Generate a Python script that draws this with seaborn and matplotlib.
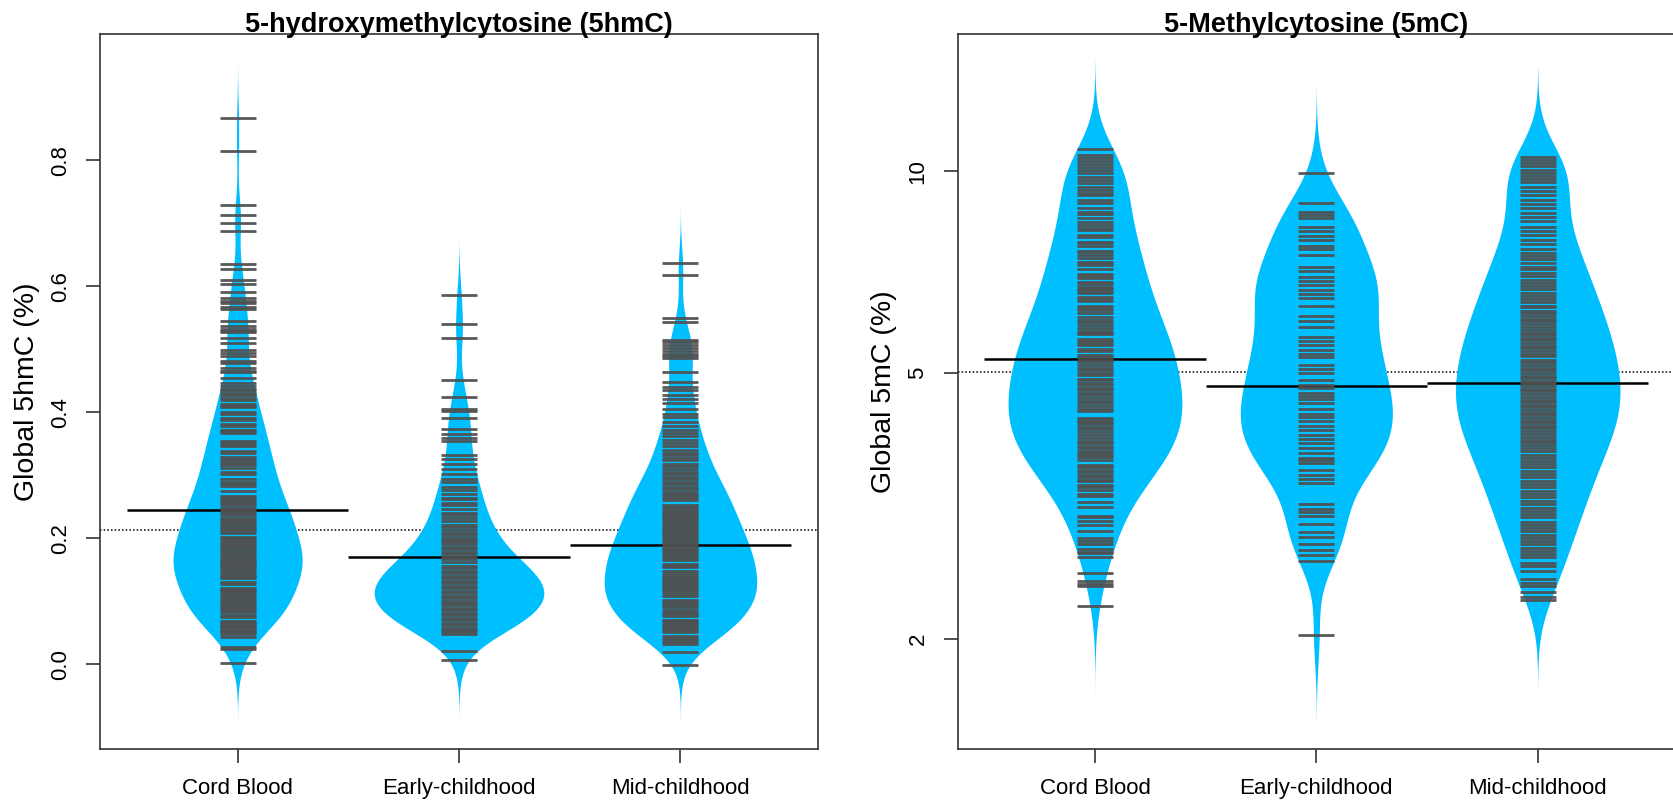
import numpy as np
import pandas as pd
import matplotlib
matplotlib.use("Agg")
import matplotlib.pyplot as plt
from matplotlib.ticker import NullLocator
import seaborn as sns

sns.set_theme(style="white")
plt.rcParams['font.family'] = ['Liberation Sans', 'DejaVu Sans']
plt.rcParams['text.color'] = 'black'
plt.rcParams['axes.labelcolor'] = 'black'
plt.rcParams['xtick.color'] = 'black'
plt.rcParams['ytick.color'] = 'black'

groups = ["Cord Blood", "Early-childhood", "Mid-childhood"]

# ---------------- 5hmC (%) : observed values and multiplicities ----------------
hmc_cord_values = [0.003, 0.025, 0.028,
    0.044, 0.049, 0.051, 0.053, 0.057, 0.059, 0.061, 0.064, 0.067, 0.069, 0.075, 0.078,
    0.083, 0.086, 0.089, 0.092, 0.095, 0.098, 0.101, 0.104, 0.107, 0.110, 0.113, 0.116, 0.119,
    0.121, 0.128, 0.131, 0.137, 0.139, 0.141, 0.144, 0.147, 0.150, 0.153, 0.156, 0.159,
    0.162, 0.165, 0.168, 0.171, 0.174, 0.177, 0.180, 0.183, 0.186, 0.189, 0.192, 0.195, 0.198,
    0.201, 0.203, 0.208, 0.212, 0.215, 0.218, 0.221, 0.224, 0.227, 0.230, 0.233, 0.237,
    0.240, 0.243, 0.246, 0.249, 0.253, 0.256, 0.259, 0.262, 0.265, 0.268, 0.276,
    0.284, 0.287, 0.290, 0.294, 0.302, 0.305, 0.3115, 0.317, 0.320,
    0.323, 0.326, 0.329, 0.336, 0.339, 0.346, 0.349, 0.352, 0.355,
    0.367, 0.370, 0.372, 0.378, 0.381, 0.388, 0.391, 0.397, 0.400, 0.408, 0.411, 0.414, 0.420,
    0.423, 0.427, 0.431, 0.435, 0.438, 0.442, 0.446, 0.455, 0.464, 0.466, 0.470, 0.478,
    0.482, 0.490, 0.494, 0.499, 0.510, 0.518, 0.527, 0.530, 0.533, 0.537,
    0.546, 0.565, 0.568, 0.573, 0.577, 0.582, 0.592,
    0.6045, 0.611, 0.628, 0.635, 0.688, 0.700, 0.714, 0.729, 0.815, 0.8675]
hmc_cord_counts = [2, 2, 2,
    1, 2, 1, 2, 2, 1, 2, 3, 2, 2, 3, 2,
    3, 3, 3, 3, 3, 3, 3, 3, 3, 3, 3, 2, 2,
    4, 4, 4, 4, 4, 3, 3, 3, 3, 3, 3, 4,
    4, 4, 4, 4, 3, 3, 3, 3, 3, 3, 3, 3, 3,
    3, 2, 4, 4, 4, 3, 3, 3, 3, 3, 3, 3,
    3, 2, 2, 2, 3, 2, 2, 4, 4, 4, 3,
    4, 4, 3, 3, 3, 3, 1, 4, 3,
    2, 2, 2, 3, 2, 3, 3, 2, 2,
    2, 2, 2, 3, 2, 2, 2, 2, 2, 2, 1, 1, 1,
    1, 1, 1, 2, 1, 2, 2, 1, 1, 1, 1, 1,
    1, 1, 1, 1, 1, 1, 1, 2, 2, 1,
    1, 1, 1, 1, 1, 1, 1,
    1, 1, 1, 1, 1, 1, 1, 1, 1, 1]

hmc_early_values = [0.0075, 0.022,
    0.048, 0.051, 0.055, 0.058, 0.062, 0.066, 0.070, 0.074, 0.078,
    0.082, 0.086, 0.090, 0.094, 0.098, 0.101, 0.105, 0.109, 0.113, 0.117,
    0.121, 0.125, 0.129, 0.133, 0.137, 0.141, 0.145, 0.149, 0.153, 0.157,
    0.162, 0.167, 0.171, 0.175, 0.179, 0.183, 0.187, 0.191, 0.194, 0.198,
    0.201, 0.205, 0.209, 0.214, 0.218, 0.222, 0.228, 0.233, 0.237,
    0.241, 0.246, 0.253, 0.257, 0.262, 0.265, 0.271, 0.277,
    0.282, 0.290, 0.295, 0.302, 0.310, 0.318, 0.326, 0.333,
    0.355, 0.359, 0.366, 0.374, 0.392, 0.403, 0.406, 0.425, 0.452, 0.519, 0.541, 0.586]
hmc_early_counts = [1, 1,
    2, 2, 2, 2, 2, 2, 3, 2, 3,
    3, 3, 3, 2, 3, 3, 3, 3, 3, 3,
    3, 3, 3, 3, 3, 3, 3, 3, 2, 3,
    2, 2, 1, 2, 1, 2, 1, 2, 1, 1,
    2, 1, 1, 1, 1, 1, 2, 1, 1,
    1, 1, 1, 1, 1, 1, 1, 1,
    1, 1, 1, 1, 1, 1, 1, 1,
    1, 1, 1, 1, 1, 1, 1, 1, 1, 1, 1, 1]

hmc_mid_values = [-0.0008, 0.0198,
    0.033, 0.036, 0.039, 0.042, 0.045, 0.051, 0.054, 0.057, 0.060, 0.063, 0.066, 0.069,
    0.070, 0.0765, 0.080, 0.083, 0.086, 0.092, 0.095, 0.098, 0.101, 0.103, 0.109,
    0.112, 0.115, 0.118, 0.121, 0.124, 0.127, 0.130, 0.133, 0.136, 0.139, 0.142, 0.145, 0.148,
    0.154, 0.157, 0.160, 0.166, 0.169, 0.172, 0.175, 0.178, 0.181, 0.184, 0.187,
    0.190, 0.193, 0.196, 0.199, 0.202, 0.205, 0.208, 0.211, 0.214, 0.217, 0.220, 0.223, 0.226, 0.229,
    0.232, 0.235, 0.238, 0.241, 0.244, 0.247, 0.250, 0.253, 0.261, 0.264, 0.267,
    0.271, 0.274, 0.278, 0.282, 0.286, 0.290, 0.294, 0.298, 0.302, 0.306,
    0.311, 0.315, 0.319, 0.324, 0.328, 0.332, 0.336, 0.341, 0.346,
    0.351, 0.356, 0.362, 0.367, 0.372, 0.378, 0.385, 0.393, 0.398, 0.405,
    0.415, 0.422, 0.428, 0.435, 0.441, 0.449, 0.464, 0.487, 0.489, 0.493, 0.498, 0.503, 0.507,
    0.512, 0.515, 0.543, 0.550, 0.618, 0.638]
hmc_mid_counts = [1, 1,
    1, 2, 2, 2, 2, 2, 2, 2, 2, 2, 2, 2,
    3, 3, 3, 3, 3, 3, 3, 3, 3, 2, 3,
    3, 3, 3, 3, 3, 3, 3, 3, 3, 3, 2, 2, 2,
    3, 4, 3, 4, 3, 3, 3, 3, 3, 2, 2,
    2, 2, 2, 2, 2, 2, 3, 2, 2, 2, 2, 2, 2, 2,
    2, 2, 2, 2, 2, 2, 2, 2, 3, 2, 2,
    2, 2, 2, 2, 2, 2, 2, 2, 1, 1,
    2, 2, 1, 1, 1, 2, 1, 2, 1,
    2, 1, 1, 1, 2, 1, 1, 1, 2, 1,
    1, 1, 1, 1, 1, 1, 2, 1, 1, 1, 1, 1, 1,
    1, 1, 1, 1, 1, 1]

hmc_means = [0.2456, 0.1711, 0.1890]
hmc_overall = 0.2137

# ---------------- 5mC (%) : observed values and multiplicities ----------------
mc_cord_values = [2.24, 2.40, 2.42, 2.44, 2.51, 2.65, 2.69, 2.70, 2.73, 2.775, 2.80, 2.83,
    2.90, 2.96, 3.00, 3.04, 3.06, 3.15, 3.21, 3.27, 3.30,
    3.34, 3.37, 3.40, 3.44, 3.46, 3.49, 3.52, 3.55, 3.58, 3.61,
    3.645, 3.705, 3.74, 3.77, 3.79, 3.82, 3.86, 3.89, 3.93, 3.96,
    4.00, 4.04, 4.08, 4.12, 4.15, 4.19, 4.22, 4.25, 4.28,
    4.38, 4.42, 4.46, 4.50, 4.54, 4.59, 4.63, 4.67, 4.71, 4.74,
    4.80, 4.82, 4.88, 4.90, 4.96, 4.99, 5.04, 5.09, 5.13, 5.18, 5.22,
    5.27, 5.31, 5.39, 5.43, 5.50, 5.53, 5.58, 5.62, 5.71, 5.74,
    5.78, 5.84, 5.90, 5.96, 6.00, 6.05, 6.14, 6.21, 6.25, 6.29,
    6.39, 6.44, 6.48, 6.58, 6.62, 6.67, 6.72, 6.78, 6.83, 6.93,
    6.98, 7.03, 7.13, 7.24, 7.28, 7.31, 7.42, 7.50, 7.56,
    7.61, 7.73, 7.80, 7.85, 7.96, 8.04, 8.17, 8.21,
    8.32, 8.39, 8.50, 8.62, 8.68, 8.82, 8.95, 9.06,
    9.22, 9.29, 9.36, 9.48, 9.60, 9.70, 9.81, 9.92,
    10.03, 10.14, 10.25, 10.36, 10.47, 10.56, 10.80]
mc_cord_counts = [1, 1, 1, 1, 1, 1, 1, 1, 1, 1, 2, 1,
    1, 2, 2, 2, 2, 2, 2, 2, 2,
    2, 2, 2, 2, 2, 2, 2, 2, 3, 2,
    3, 3, 3, 3, 2, 3, 3, 3, 3, 3,
    3, 3, 3, 3, 4, 4, 4, 4, 4,
    3, 3, 4, 3, 4, 3, 4, 3, 4, 3,
    3, 2, 3, 3, 3, 2, 3, 3, 3, 4, 3,
    3, 3, 3, 3, 3, 3, 3, 3, 3, 2,
    3, 3, 3, 2, 2, 3, 3, 2, 2, 2,
    2, 2, 2, 3, 2, 2, 2, 2, 2, 2,
    2, 2, 2, 2, 1, 2, 2, 2, 2,
    2, 2, 2, 1, 2, 2, 2, 1,
    2, 2, 2, 1, 2, 2, 1, 1,
    2, 2, 1, 1, 2, 2, 2, 1,
    2, 2, 2, 1, 2, 2, 1]

mc_early_values = [2.03, 2.62, 2.67, 2.72, 2.77, 2.84, 2.89, 2.97, 3.05, 3.10, 3.13, 3.18,
    3.42, 3.47, 3.52, 3.58, 3.66, 3.70, 3.73, 3.80, 3.86, 3.93, 3.98, 4.04,
    4.11, 4.16, 4.23, 4.30, 4.34, 4.42, 4.50, 4.56, 4.61, 4.66, 4.74, 4.80, 4.87,
    5.00, 5.06, 5.13, 5.27, 5.34, 5.41, 5.50, 5.58, 5.65, 5.85, 5.98, 6.07,
    6.29, 6.46, 6.55, 6.64, 6.77, 6.86, 6.95, 7.10, 7.20, 7.50, 7.65, 7.74,
    7.90, 8.00, 8.13, 8.25, 8.50, 8.60, 8.70, 8.96, 9.95]
mc_early_counts = [1, 1, 1, 1, 1, 1, 1, 1, 1, 1, 1, 1,
    2, 1, 1, 2, 1, 2, 1, 2, 2, 2, 1, 2,
    2, 1, 2, 2, 2, 2, 2, 1, 2, 1, 2, 1, 2,
    2, 1, 2, 2, 2, 2, 1, 1, 2, 2, 2, 2,
    2, 2, 2, 2, 2, 1, 2, 2, 2, 1, 2, 1,
    1, 1, 1, 1, 2, 1, 1, 2, 1]

mc_mid_values = [2.29, 2.31, 2.35, 2.40, 2.43, 2.46, 2.53, 2.57, 2.60, 2.65, 2.68, 2.71, 2.74,
    2.77, 2.80, 2.83, 2.86, 2.90, 2.93, 2.96, 2.99, 3.04, 3.08, 3.11, 3.14,
    3.18, 3.22, 3.26, 3.29, 3.33, 3.37, 3.41, 3.45, 3.49, 3.53, 3.57, 3.61,
    3.65, 3.69, 3.73, 3.77, 3.82, 3.86, 3.90, 3.94, 3.97, 4.01, 4.05, 4.09, 4.13, 4.16,
    4.20, 4.24, 4.28, 4.32, 4.35, 4.40, 4.44, 4.48, 4.52, 4.55, 4.60, 4.65, 4.69, 4.73, 4.77,
    4.82, 4.86, 4.91, 4.95, 4.99, 5.04, 5.09, 5.14, 5.19, 5.23, 5.29, 5.34, 5.39, 5.44, 5.48,
    5.53, 5.59, 5.64, 5.69, 5.73, 5.79, 5.85, 5.91, 5.97, 6.01, 6.07, 6.13, 6.19, 6.26, 6.29,
    6.37, 6.44, 6.51, 6.57, 6.66, 6.73, 6.81, 6.88, 6.97, 7.05, 7.13, 7.20,
    7.30, 7.39, 7.48, 7.55, 7.66, 7.77, 7.88, 8.02, 8.13, 8.24, 8.42, 8.55, 8.65,
    8.80, 8.93, 9.05, 9.22, 9.35, 9.47, 9.62, 9.72, 9.84, 9.95,
    10.05, 10.17, 10.28, 10.40, 10.50]
mc_mid_counts = [1, 1, 1, 1, 1, 1, 1, 2, 1, 1, 1, 1, 1,
    1, 1, 2, 1, 1, 1, 2, 1, 2, 1, 2, 1,
    2, 2, 1, 2, 2, 2, 2, 1, 2, 2, 2, 2,
    2, 2, 3, 2, 2, 2, 2, 2, 2, 2, 2, 2, 2, 3,
    2, 2, 3, 2, 2, 2, 3, 2, 2, 2, 2, 3, 2, 2, 3,
    2, 3, 2, 2, 2, 2, 2, 3, 2, 2, 2, 2, 2, 3, 2,
    2, 2, 2, 2, 2, 2, 2, 2, 2, 1, 2, 2, 2, 2, 1,
    2, 2, 2, 2, 2, 2, 2, 1, 2, 2, 2, 1,
    2, 2, 1, 1, 2, 2, 1, 2, 1, 2, 2, 1, 1,
    1, 1, 1, 1, 1, 1, 1, 2, 2, 1,
    2, 2, 2, 2, 1]

mc_means = [5.24, 4.78, 4.83]
mc_overall = 5.02

BLUE = "#00BFFF"
LINE = "#505050"
SPINE = "#333333"


def draw_panel(ax, values, counts, means, overall, bw, widths, log):
    for i, (v, c) in enumerate(zip(values, counts)):
        obs = np.repeat(np.asarray(v, float), c)
        sd = np.std(np.log10(obs) if log else obs, ddof=1)
        df = pd.DataFrame({"group": [groups[i]] * len(obs), "value": obs})
        kw = dict(log_scale=True) if log else {}
        sns.violinplot(data=df, x="group", y="value", order=groups, color=BLUE,
                       saturation=1, inner=None, linewidth=0, cut=3,
                       bw_method=bw / sd, gridsize=400, width=widths[i],
                       density_norm="width", ax=ax, **kw)
    for coll in ax.collections:
        coll.set_zorder(2)
    for i, v in enumerate(values):
        ax.hlines(means[i], i - 0.5, i + 0.5, colors="black", linewidth=1.8, zorder=3)
        ax.hlines(np.asarray(v, float), i - 0.081, i + 0.081,
                  colors=LINE, alpha=0.95, linewidth=2.0, zorder=4)
    ax.axhline(overall, color="black", lw=1.1, ls=(0, (1, 1.4)), zorder=1)
    ax.set_xlim(-0.62, 2.62)
    ax.set_xticks(range(3))
    ax.set_xticklabels(groups)
    ax.set_xlabel("")
    for sp in ax.spines.values():
        sp.set_visible(True)
        sp.set_color(SPINE)
        sp.set_linewidth(1.2)
    ax.tick_params(axis="both", which="major", direction="out", length=10, width=1.2,
                   color=SPINE, pad=11, labelsize=16, labelcolor="black",
                   bottom=True, left=True, top=False, right=False)
    ax.tick_params(axis="y", labelrotation=90)
    ax.grid(False)


fig = plt.figure(figsize=(16.74, 8.08), dpi=100)
ax1 = fig.add_axes([0.05992, 0.07339, 0.42856, 0.88416])
ax2 = fig.add_axes([0.57210, 0.07339, 0.42849, 0.88416])

draw_panel(ax1, [hmc_cord_values, hmc_early_values, hmc_mid_values],
           [hmc_cord_counts, hmc_early_counts, hmc_mid_counts],
           hmc_means, hmc_overall, 0.031, [0.583, 0.766, 0.689], log=False)
ax1.set_ylim(-0.1337, 1.0003)
ax1.set_yticks([0.0, 0.2, 0.4, 0.6, 0.8])
ax1.set_yticklabels(["0.0", "0.2", "0.4", "0.6", "0.8"])
ax1.set_ylabel("Global 5hmC (%)", fontsize=20.5, color="black")
ax1.yaxis.set_label_coords(-0.084, 0.5)
ax1.set_title("5-hydroxymethylcytosine (5hmC)", fontsize=19.5, fontweight="bold",
              pad=2, color="black")

draw_panel(ax2, [mc_cord_values, mc_early_values, mc_mid_values],
           [mc_cord_counts, mc_early_counts, mc_mid_counts],
           mc_means, mc_overall, 0.044, [0.785, 0.687, 0.743], log=True)
ax2.set_yscale("log")
ax2.set_ylim(10 ** 0.1375, 10 ** 1.2043)
ax2.set_yticks([2, 5, 10])
ax2.set_yticklabels(["2", "5", "10"])
ax2.yaxis.set_minor_locator(NullLocator())
ax2.set_ylabel("Global 5mC (%)", fontsize=20.5, color="black")
ax2.yaxis.set_label_coords(-0.084, 0.5)
ax2.set_title("5-Methylcytosine (5mC)", fontsize=19.5, fontweight="bold",
              pad=2, color="black")

for ax in (ax1, ax2):
    for lbl in ax.get_yticklabels():
        lbl.set_va("center")

fig.savefig("out.png", dpi=100)
